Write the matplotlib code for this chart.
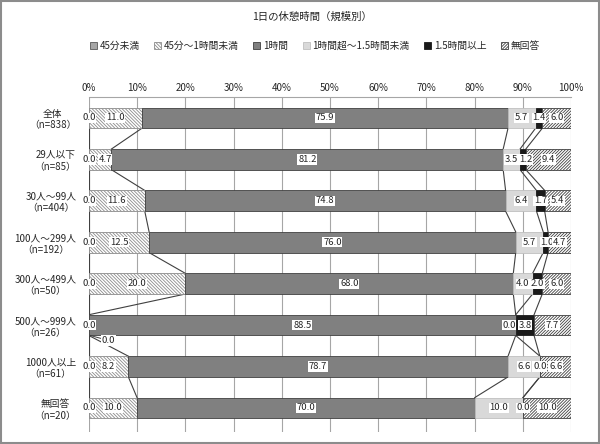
import matplotlib
matplotlib.use('Agg')
import matplotlib.pyplot as plt
import numpy as np

plt.rcParams['font.family'] = ['Noto Sans CJK JP', 'DejaVu Sans']
plt.rcParams['hatch.linewidth'] = 0.6

# ---- data ----
groups = ['全体', '29人以下', '30人～99人', '100人～299人', '300人～499人',
          '500人～999人', '1000人以上', '無回答']
counts = [838, 85, 404, 192, 50, 26, 61, 20]
series = ['45分未満', '45分～1時間未満', '1時間', '1時間超～1.5時間未満',
          '1.5時間以上', '無回答']
lt45 = [0.0, 0.0, 0.0, 0.0, 0.0, 0.0, 0.0, 0.0]
m45_60 = [11.0, 4.7, 11.6, 12.5, 20.0, 0.0, 8.2, 10.0]
h1 = [75.9, 81.2, 74.8, 76.0, 68.0, 88.5, 78.7, 70.0]
h1_15 = [5.7, 3.5, 6.4, 5.7, 4.0, 0.0, 6.6, 10.0]
h15 = [1.4, 1.2, 1.7, 1.0, 2.0, 3.8, 0.0, 0.0]
noans = [6.0, 9.4, 5.4, 4.7, 6.0, 7.7, 6.6, 10.0]
ticks = [0, 10, 20, 30, 40, 50, 60, 70, 80, 90, 100]

vals = np.array([lt45, m45_60, h1, h1_15, h15, noans])
styles = [
    dict(facecolor='#a6a6a6', edgecolor='#595959', hatch=None),
    dict(facecolor='white', edgecolor='#8c8c8c', hatch='\\' * 10),
    dict(facecolor='#808080', edgecolor='#404040', hatch=None),
    dict(facecolor='#d9d9d9', edgecolor='#bfbfbf', hatch=None),
    dict(facecolor='#1a1a1a', edgecolor='#1a1a1a', hatch=None),
    dict(facecolor='white', edgecolor='#404040', hatch='/' * 11),
]

# label nudges (in %), where Excel moved labels apart
nudge = {(1, 1): 1.0, (4, 1): 0.6, (3, 5): -1.4, (4, 3): 0.3}

fig = plt.figure(figsize=(6.0, 4.44), dpi=100)
ax = fig.add_axes([0.148, 0.027, 0.804, 0.755])

y = np.arange(len(groups))
h = 0.5
left = np.zeros(len(groups))
cum = [left.copy()]
for k, name in enumerate(series):
    st = styles[k]
    ax.barh(y, vals[k], height=h, left=left, facecolor=st['facecolor'],
            edgecolor=st['edgecolor'], hatch=st['hatch'], linewidth=0.6,
            label=name, zorder=3)
    left = left + vals[k]
    cum.append(left.copy())

# series lines
for i in range(len(groups) - 1):
    for k in range(1, len(series)):
        ax.plot([cum[k][i], cum[k][i + 1]], [i + h / 2, i + 1 - h / 2],
                color='#404040', linewidth=0.8, zorder=2)

# data labels
box = dict(facecolor='white', edgecolor='none', pad=0.5)
for k in range(len(series)):
    for i in range(len(groups)):
        v = vals[k][i]
        xc = cum[k][i] + v / 2 + nudge.get((k, i), 0)
        yc = y[i]
        if k == 1 and i == 5:
            # moved label below the bar
            ax.plot([0.3, 2.8], [yc + h / 2, yc + 0.33], color='#404040',
                    linewidth=0.7, zorder=4)
            xc, yc = 4.0, yc + 0.37
        ax.text(xc, yc, f'{v:.1f}', ha='center', va='center', fontsize=6.8,
                color='#262626', bbox=box, zorder=5)

ax.set_xlim(0, 100)
ax.set_ylim(len(groups) - 1 + 0.58, -0.51)
ax.set_xticks(ticks)
ax.set_xticklabels([f'{t}%' for t in ticks], fontsize=7, color='#262626')
ax.xaxis.tick_top()
ax.tick_params(axis='x', length=0, pad=3)
ax.set_yticks(y)
ax.set_yticklabels([f'{g}\n（n={n}）' for g, n in zip(groups, counts)],
                   fontsize=7, color='#262626', multialignment='center')
ax.tick_params(axis='y', length=0, pad=9)
ax.grid(axis='x', color='#a6a6a6', linewidth=0.8, zorder=0)
for s in ['left', 'right', 'bottom']:
    ax.spines[s].set_visible(False)
ax.spines['top'].set_color('#a6a6a6')
ax.spines['top'].set_linewidth(0.8)

fig.text(0.52, 0.962, '1日の休憩時間（規模別）', ha='center', va='center',
         fontsize=7.5, color='#262626')
fig.legend(loc='center', bbox_to_anchor=(0.525, 0.896), ncol=6, frameon=False,
           fontsize=7, handlelength=0.7, handleheight=0.7, handletextpad=0.3,
           columnspacing=1.5, labelcolor='#262626')

# outer frame
fig.patches.append(plt.Rectangle((0.002, 0.002), 0.996, 0.996, fill=False,
                                 edgecolor='#8c8c8c', linewidth=1.5,
                                 transform=fig.transFigure, figure=fig))

fig.savefig('out.png', dpi=100)
